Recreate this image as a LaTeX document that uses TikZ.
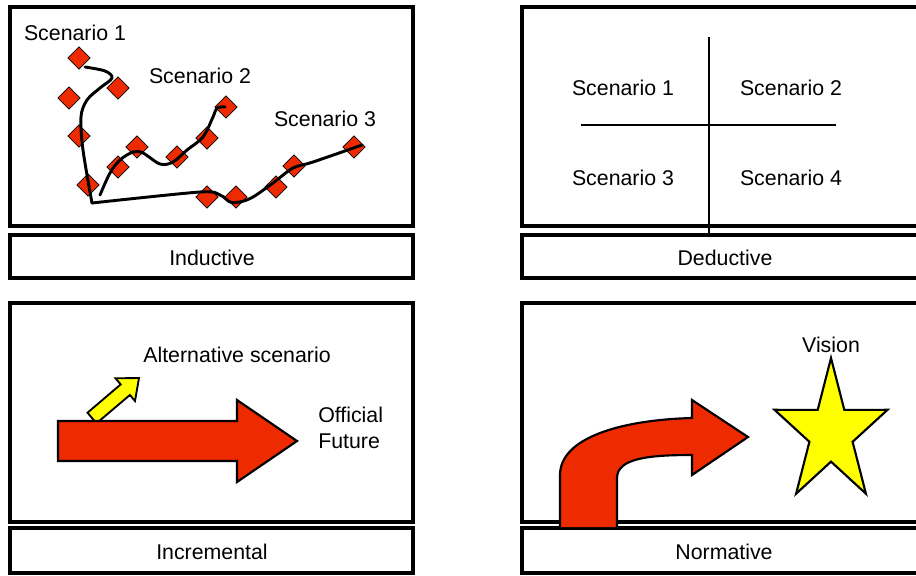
\documentclass[tikz,border=0pt]{standalone}
\usepackage{fontspec}
\setmainfont{Liberation Sans}
\usetikzlibrary{shapes.geometric}

\definecolor{scenred}{RGB}{238,42,0}
\definecolor{visionyellow}{RGB}{255,255,0}

\tikzset{
  panel/.style={draw=black, line width=2.3pt},
  caption/.style={font=\fontsize{16}{19}\selectfont, inner sep=0pt},
  scen/.style={diamond, draw=black, line width=0.5pt, fill=scenred, inner sep=0pt, minimum size=17pt},
  trend/.style={draw=black, line width=2.2pt, line cap=round, line join=round},
  quadline/.style={draw=black, line width=2.2pt},
  bigarrow/.style={draw=black, line width=1.6pt, fill=scenred, line join=miter},
}

\begin{document}
\begin{tikzpicture}[x=0.75pt, y=-0.75pt]

    \useasboundingbox (0,0) rectangle (916,575);
    \clip (0,0) rectangle (916,575);

    % 1. Panels and caption boxes
    \draw[panel] (10,7) rectangle (413,226);
    \draw[panel] (10,235) rectangle (413,278);
    \draw[panel] (522,7) rectangle (930,226);
    \draw[panel] (522,235) rectangle (930,278);
    \draw[panel] (10,303) rectangle (413,522);
    \draw[panel] (10,528) rectangle (413,573);
    \draw[panel] (522,303) rectangle (930,522);
    \draw[panel] (522,528) rectangle (930,573);

    \node[caption] (inductive) at (212,258) {Inductive};
    \node[caption] (deductive) at (725,258) {Deductive};
    \node[caption] (incremental) at (212,552) {Incremental};
    \node[caption] (normative) at (724,552) {Normative};

    % 2. Inductive: diamonds and scenario paths
    \foreach \x/\y [count=\i] in {79/58, 118/88, 69/98, 79/136, 88/185, 118/167, 137/147,
        177/157, 207/138, 226/107, 207/197, 236/197, 276/187, 294/166, 354/147}
      \node[scen] (d\i) at (\x,\y) {};

    \coordinate (O) at (92,203);
    \draw[trend] plot[smooth, tension=0.55] coordinates {(85,67) (105,71) (112,78) (100,88)
        (87,100) (81,117) (83,150) (92,203)};
    \draw[trend] plot[smooth, tension=0.55] coordinates {(100,195) (110,173) (120,160) (133,152)
        (143,153) (160,164) (173,162) (187,150) (203,137) (213,117) (217,108) (225,107)};
    \draw[trend] plot[smooth, tension=0.5] coordinates {(O) (200,192) (220,195) (230,202)
        (240,202) (253,197) (273,183) (293,168) (313,162) (362,145)};

    \node[caption] (ind1) at (75,33) {Scenario 1};
    \node[caption] (ind2) at (200,76) {Scenario 2};
    \node[caption] (ind3) at (325,119) {Scenario 3};

    % 3. Deductive: quadrants
    \coordinate (vtop) at (709,37);
    \coordinate (vbot) at (709,233);
    \coordinate (hleft) at (581,125);
    \coordinate (hright) at (836,125);
    \draw[quadline] (vtop) -- (vbot);
    \draw[quadline] (hleft) -- (hright);

    \node[caption] (ded1) at (623,88) {Scenario 1};
    \node[caption] (ded2) at (791,88) {Scenario 2};
    \node[caption] (ded3) at (623,178) {Scenario 3};
    \node[caption] (ded4) at (791,178) {Scenario 4};

    % 4. Incremental: alternative and official arrows
    \draw[draw=black, line width=1.4pt, fill=visionyellow, line join=miter]
      (87.5,412.7) -- (120.7,384.4) -- (115.5,378.3) -- (139,378) -- (135,401)
      -- (129.9,395) -- (96.5,423.3) -- cycle;
    \draw[bigarrow] (58,421) -- (237,421) -- (237,400) -- (297,441) -- (237,482)
      -- (237,461) -- (58,461) -- cycle;

    \node[caption] (alt) at (237,355) {Alternative scenario};
    \node[caption, anchor=west, align=left] (official) at (318,428) {Official\\Future};

    % 5. Normative: bent arrow towards the vision
    \fill[scenred] (560,527) -- (560,475) .. controls (560,438) and (620,420) .. (692,418)
      -- (692,400) -- (748,437) -- (692,475) -- (692,455)
      .. controls (650,455) and (617,458) .. (617,478) -- (617,527) -- cycle;
    \draw[line width=1.6pt, line join=miter] (560,527) -- (560,475)
      .. controls (560,438) and (620,420) .. (692,418)
      -- (692,400) -- (748,437) -- (692,475) -- (692,455)
      .. controls (650,455) and (617,458) .. (617,478) -- (617,527);

    \draw[draw=black, line width=1.6pt, fill=visionyellow, line join=miter]
      (831,358) -- (844.3,409.9) -- (887.5,409.8) -- (852.6,441.8) -- (865.9,493.7)
      -- (831,461.6) -- (796.1,493.7) -- (809.4,441.8) -- (774.5,409.8)
      -- (817.7,409.9) -- cycle;

    \node[caption] (vision) at (831,345) {Vision};

\end{tikzpicture}
\end{document}
